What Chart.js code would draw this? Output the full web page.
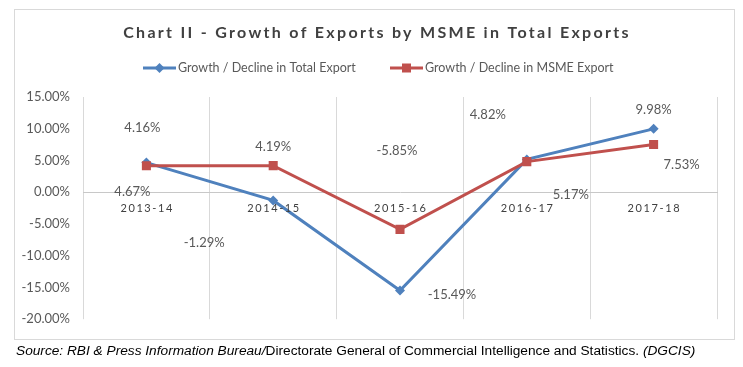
<!DOCTYPE html>
<html>
<head>
<meta charset="utf-8">
<script src="https://cdn.jsdelivr.net/npm/chart.js@4"></script>
<style>
  body { margin: 0; background: #fff; }
  #wrap { position: relative; width: 743px; height: 367px; }
  #chart { position: absolute; left: 0; top: 0; }
  #frame { position: absolute; left: 14px; top: 9px; width: 719px; height: 329px; border: 1px solid #d9d9d9; pointer-events: none; }
  #source { position: absolute; left: 16px; top: 343px; font: 13.7px "Liberation Sans", Arial, sans-serif; color: #000; white-space: nowrap; }
</style>
</head>
<body>
<div id="wrap">
  <canvas id="chart" width="743" height="340"></canvas>
  <div id="frame"></div>
  <div id="source"><i>Source: RBI &amp; Press Information Bureau/</i>Directorate General of Commercial Intelligence and Statistics. <i>(DGCIS)</i></div>
</div>
<script>
// Data
const categories = ['2013-14', '2014-15', '2015-16', '2016-17', '2017-18'];
const totalExportGrowth = [4.67, -1.29, -15.49, 5.17, 9.98];
const msmeExportGrowth = [4.16, 4.19, -5.85, 4.82, 7.53];
const yTickValues = [15, 10, 5, 0, -5, -10, -15, -20];

const chartTitle = 'Chart II - Growth of Exports by MSME in Total Exports';
const seriesNames = ['Growth / Decline in Total Export', 'Growth / Decline in MSME Export'];

// Where Excel put each data label, relative to its point
const totalLabelOffsets = [[-14, 29], [-69, 42], [52, 4], [44, 35], [0, -19]];
const msmeLabelOffsets = [[-4, -38], [0, -19], [-3, -79], [-39, -47], [28, 20]];

const BLUE = '#4f81bd';
const RED = '#c0504d';
const FONT = 'Lato, "Open Sans", sans-serif';

function fmt(v) {
  return v.toFixed(2) + '%';
}

function drawMarker(ctx, style, x, y, color) {
  ctx.fillStyle = color;
  ctx.beginPath();
  if (style === 'diamond') {
    ctx.moveTo(x, y - 5);
    ctx.lineTo(x + 5, y);
    ctx.lineTo(x, y + 5);
    ctx.lineTo(x - 5, y);
  } else {
    ctx.rect(x - 4.5, y - 4.5, 9, 9);
  }
  ctx.closePath();
  ctx.fill();
}

// Title, legend, category labels and data labels
const decorations = {
  id: 'decorations',
  afterDraw(chart) {
    const ctx = chart.ctx;
    const xScale = chart.scales.x;
    const yScale = chart.scales.y;
    ctx.save();

    // Title
    ctx.font = 'bold 16px ' + FONT;
    ctx.letterSpacing = '2.3px';
    ctx.fillStyle = '#404040';
    ctx.textAlign = 'center';
    ctx.textBaseline = 'middle';
    ctx.fillText(chartTitle, 377, 33);

    // Legend
    ctx.letterSpacing = '0px';
    ctx.font = '12.5px ' + FONT;
    ctx.textAlign = 'left';
    const legendItems = [
      { x: 143, color: BLUE, marker: 'diamond', text: seriesNames[0] },
      { x: 390, color: RED, marker: 'square', text: seriesNames[1] }
    ];
    legendItems.forEach((item) => {
      ctx.strokeStyle = item.color;
      ctx.lineWidth = 3;
      ctx.beginPath();
      ctx.moveTo(item.x, 68);
      ctx.lineTo(item.x + 33, 68);
      ctx.stroke();
      drawMarker(ctx, item.marker, item.x + 16.5, 68, item.color);
      ctx.fillStyle = '#595959';
      ctx.fillText(item.text, item.x + 35, 68);
    });

    // Category labels sit just under the zero line
    const zeroY = yScale.getPixelForValue(0);
    ctx.font = '11px ' + FONT;
    ctx.letterSpacing = '1.6px';
    ctx.fillStyle = '#404040';
    ctx.textAlign = 'center';
    categories.forEach((cat, i) => {
      ctx.fillText(cat, xScale.getPixelForValue(i) + 0.8, zeroY + 16);
    });

    // Data labels
    ctx.letterSpacing = '0px';
    ctx.font = '13px ' + FONT;
    ctx.fillStyle = '#595959';
    const sets = [
      { index: 0, values: totalExportGrowth, offsets: totalLabelOffsets },
      { index: 1, values: msmeExportGrowth, offsets: msmeLabelOffsets }
    ];
    sets.forEach((set) => {
      const meta = chart.getDatasetMeta(set.index);
      meta.data.forEach((pt, i) => {
        ctx.fillText(fmt(set.values[i]), pt.x + set.offsets[i][0], pt.y + set.offsets[i][1]);
      });
    });

    ctx.restore();
  }
};

new Chart(document.getElementById('chart'), {
  type: 'line',
  data: {
    labels: categories,
    datasets: [
      {
        label: seriesNames[0],
        data: totalExportGrowth,
        borderColor: BLUE,
        backgroundColor: BLUE,
        borderWidth: 3,
        pointStyle: 'rectRot',
        pointRadius: 5,
        pointBorderWidth: 0,
        tension: 0,
        fill: false,
        order: 1
      },
      {
        label: seriesNames[1],
        data: msmeExportGrowth,
        borderColor: RED,
        backgroundColor: RED,
        borderWidth: 3,
        pointStyle: 'rect',
        pointRadius: 6.4,
        pointBorderWidth: 0,
        tension: 0,
        fill: false,
        order: 0
      }
    ]
  },
  options: {
    responsive: false,
    animation: false,
    layout: {
      padding: { left: 20, right: 26, top: 97, bottom: 18 }
    },
    plugins: {
      legend: { display: false },
      title: { display: false },
      tooltip: { enabled: false }
    },
    scales: {
      x: {
        position: { y: 0 },
        offset: true,
        grid: {
          offset: true,
          color: '#d9d9d9',
          lineWidth: 1,
          drawTicks: false
        },
        border: { display: true, color: '#c8c8c8', width: 1 },
        ticks: { display: false }
      },
      y: {
        min: yTickValues[yTickValues.length - 1],
        max: yTickValues[0],
        afterBuildTicks: (scale) => {
          scale.ticks = yTickValues.map((v) => ({ value: v }));
        },
        afterFit: (scale) => {
          scale.width = 63;
        },
        grid: { display: false, drawTicks: false },
        border: { display: false },
        ticks: {
          padding: 13,
          color: '#595959',
          font: { size: 13, family: FONT },
          callback: (v) => fmt(v)
        }
      }
    }
  },
  plugins: [decorations]
});
</script>
</body>
</html>
